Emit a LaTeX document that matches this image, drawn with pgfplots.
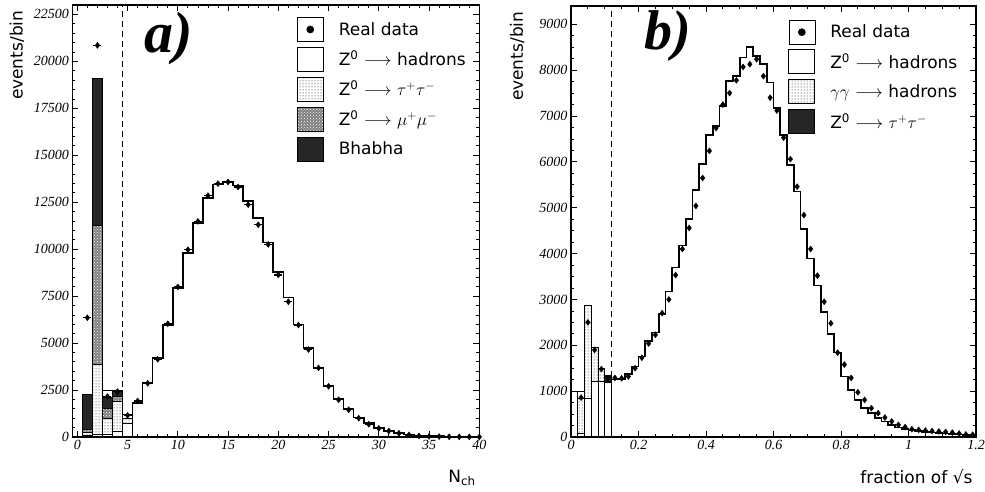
\documentclass[border=0pt]{standalone}
\usepackage{fontspec}
\setmainfont{Liberation Serif}
\setsansfont{DejaVu Sans}
\newfontfamily\serifit{Liberation Serif}
\newfontfamily\labsans{DejaVu Sans}
\usepackage{pgfplots}
\usepackage{pgfplotstable}
\pgfplotsset{compat=1.18}
\usetikzlibrary{patterns}

% left panel: cumulative heights of the low-multiplicity stacked bins
% T = total (white top), D = top of Bhabha, C = top of mu mu, P = top of tau tau, W = hadrons at bottom
\pgfplotstableread{
x T D C P W
0.5 2250 2250 400 250 100
1.5 19100 19100 11250 3850 150
2.5 2450 2090 1500 980 150
3.5 2480 2480 2150 1900 300
4.5 1200 1000 1000 1000 730
5.5 0 0 0 0 0
}\leftstack

\pgfplotstableread{
x y
4.5 1200
5.5 1800
6.5 2860
7.5 4200
8.5 5970
9.5 7930
10.5 9790
11.5 11390
12.5 12730
13.5 13440
14.5 13610
15.5 13380
16.5 12550
17.5 11660
18.5 10350
19.5 8770
20.5 7430
21.5 6000
22.5 4750
23.5 3680
24.5 2730
25.5 2020
26.5 1480
27.5 1035
28.5 730
29.5 470
30.5 330
31.5 220
32.5 140
33.5 90
34.5 60
35.5 40
36.5 25
37.5 15
38.5 10
39.5 5
40.5 5
}\lefthad

\pgfplotstableread{
x y
1 6350
2 20850
3 2150
4 2420
5 1150
6 1920
7 2860
8 4140
9 6030
10 7990
11 9970
12 11480
13 12850
14 13490
15 13580
16 13310
17 12370
18 11300
19 10250
20 8630
21 7200
22 5960
23 4660
24 3680
25 2700
26 1980
27 1450
28 1000
29 680
30 460
31 320
32 200
33 110
34 55
35 35
36 25
37 15
38 10
39 5
40 3
}\leftdata

% right panel stacked low bins: T total (white top), D top of tau, P top of gamma gamma, W hadrons bottom
\pgfplotstableread{
x T D P W
0.02 1000 850 850 80
0.04 2870 2870 2870 850
0.06 1950 1950 1950 1200
0.08 1500 1500 1500 1200
0.10 1330 1330 1220 1180
0.12 0 0 0 0
}\rightstack

\pgfplotstableread{
x y
0.10 1330
0.12 1250
0.14 1265
0.16 1380
0.18 1540
0.20 1760
0.22 2090
0.24 2280
0.26 2680
0.28 3170
0.30 3700
0.32 4180
0.34 4760
0.36 5390
0.38 5950
0.40 6590
0.42 6780
0.44 7220
0.46 7760
0.48 7870
0.50 8280
0.52 8500
0.54 8310
0.56 8130
0.58 7730
0.60 7180
0.62 6590
0.64 5930
0.66 5350
0.68 4540
0.70 3890
0.72 3300
0.74 2720
0.76 2240
0.78 1840
0.80 1320
0.82 1030
0.84 810
0.86 630
0.88 520
0.90 410
0.92 335
0.94 265
0.96 210
0.98 175
1.00 150
1.02 130
1.04 115
1.06 100
1.08 90
1.10 80
1.12 65
1.14 55
1.16 45
1.18 40
1.20 40
}\righthad

\pgfplotstableread{
x y
0.03 860
0.05 2500
0.07 1900
0.09 1480
0.11 1280
0.13 1290
0.15 1280
0.17 1320
0.19 1500
0.21 1730
0.23 2040
0.25 2230
0.27 2700
0.29 3000
0.31 3530
0.33 4100
0.35 4560
0.37 5040
0.39 5650
0.41 6240
0.43 6740
0.45 7250
0.47 7500
0.49 7780
0.51 8070
0.53 8130
0.55 8240
0.57 7870
0.59 7400
0.61 7120
0.63 6530
0.65 6060
0.67 5460
0.69 4840
0.71 4100
0.73 3520
0.75 2950
0.77 2480
0.79 1840
0.81 1580
0.83 1290
0.85 975
0.87 810
0.89 630
0.91 520
0.93 425
0.95 340
0.97 265
0.99 215
1.01 170
1.03 155
1.05 140
1.07 130
1.09 120
1.11 110
1.13 95
1.15 75
1.17 55
1.19 50
}\rightdata

\tikzset{
  mumu/.style={fill=black!50, postaction={pattern=crosshatch dots, pattern color=white}},
  tautau/.style={fill=white, postaction={pattern=dots}},
  bhabha/.style={fill=black!85},
}

\pgfplotsset{
  panel/.style={
    scale only axis, anchor=south west,
    ymin=0,
    scaled ticks=false,
    /pgf/number format/assume math mode=true,
    /pgf/number format/1000 sep={},
    tick label style={font=\fontsize{14}{14}\selectfont\serifit\itshape},
    label style={font=\fontsize{17}{17}\selectfont\labsans},
    axis line style={line width=1.2pt},
    tick style={black, line width=0.8pt},
    major tick length=6pt, minor tick length=3pt,
    ylabel style={rotate=0, anchor=east},
    xlabel style={anchor=north east},
    legend cell align=left,
    legend style={draw=none, fill=none, inner sep=0pt, anchor=north west,
      font=\fontsize{17}{17}\selectfont\labsans, row sep=5pt,
      /tikz/every odd column/.append style={column sep=13pt}},
  },
  boxleg/.style={legend image code/.code={\draw[black, line width=1pt, #1] (0pt,-12pt) rectangle (26pt,12pt);}},
}

\begin{document}
\begin{tikzpicture}
\begin{axis}[panel,
  at={(72.3pt,55pt)}, width=407pt, height=432pt,
  xmin=-0.5, xmax=40, ymax=23000,
  xtick={0,5,...,40}, ytick={0,2500,...,22500},
  minor x tick num=4, minor y tick num=4,
  xlabel={N\textsubscript{ch}}, ylabel={events/bin},
  xlabel style={at={(axis description cs:1.0,-0.068)}},
  ylabel style={at={(axis description cs:-0.136,0.995)}},
  legend style={at={(axis description cs:0.551,0.972)}},
]
\addlegendimage{legend image code/.code={\path (0pt,-12pt) rectangle (26pt,12pt); \fill[black] (13pt,0pt) circle (3.6pt);}}
\addlegendentry{Real data}
\addlegendimage{boxleg={fill=white}}
\addlegendentry{Z\textsuperscript{0} $\longrightarrow$ hadrons}
\addlegendimage{boxleg={tautau}}
\addlegendentry{Z\textsuperscript{0} $\longrightarrow$ $\tau^{+}\tau^{-}$}
\addlegendimage{boxleg={mumu}}
\addlegendentry{Z\textsuperscript{0} $\longrightarrow$ $\mu^{+}\mu^{-}$}
\addlegendimage{boxleg={bhabha}}
\addlegendentry{Bhabha}

\addplot[ybar interval, draw=black, line width=1pt, fill=white, forget plot] table[x=x, y=T] {\leftstack};
\addplot[ybar interval, draw=black, line width=1pt, bhabha, forget plot] table[x=x, y=D] {\leftstack};
\addplot[ybar interval, draw=black, line width=1pt, mumu, forget plot] table[x=x, y=C] {\leftstack};
\addplot[ybar interval, draw=black, line width=1pt, tautau, forget plot] table[x=x, y=P] {\leftstack};
\addplot[ybar interval, draw=black, line width=1pt, fill=white, forget plot] table[x=x, y=W] {\leftstack};
\addplot[const plot, black, line width=1.6pt, forget plot] table[x=x, y=y] {\lefthad};
\addplot[black, dashed, line width=0.8pt, dash pattern=on 6pt off 4pt, forget plot] coordinates {(4.5,0) (4.5,23000)};
\addplot[only marks, mark=diamond*, mark size=3pt, black, forget plot,
  error bars/.cd, x dir=both, x fixed=0.4, error mark=none,
  error bar style={line width=1.3pt}] table[x=x, y=y] {\leftdata};
\node at (axis description cs:0.236,0.923) {\fontsize{58}{58}\selectfont\serifit\bfseries\itshape a)};
\end{axis}

\begin{axis}[panel,
  at={(571pt,55pt)}, width=405pt, height=431pt,
  xmin=0, xmax=1.2, ymax=9400,
  xtick={0,0.2,0.4,0.6,0.8,1,1.2}, ytick={0,1000,...,9000},
  minor x tick num=3, minor y tick num=3,
  xlabel={fraction of √s}, ylabel={events/bin},
  xlabel style={at={(axis description cs:1.0,-0.068)}},
  ylabel style={at={(axis description cs:-0.133,0.995)}},
  legend style={at={(axis description cs:0.536,0.968)}},
]
\addlegendimage{legend image code/.code={\path (0pt,-12pt) rectangle (26pt,12pt); \fill[black] (13pt,0pt) circle (3.6pt);}}
\addlegendentry{Real data}
\addlegendimage{boxleg={fill=white}}
\addlegendentry{Z\textsuperscript{0} $\longrightarrow$ hadrons}
\addlegendimage{boxleg={tautau}}
\addlegendentry{$\gamma\gamma$ $\longrightarrow$ hadrons}
\addlegendimage{boxleg={bhabha}}
\addlegendentry{Z\textsuperscript{0} $\longrightarrow$ $\tau^{+}\tau^{-}$}

\addplot[ybar interval, draw=black, line width=1pt, fill=white, forget plot] table[x=x, y=T] {\rightstack};
\addplot[ybar interval, draw=black, line width=1pt, bhabha, forget plot] table[x=x, y=D] {\rightstack};
\addplot[ybar interval, draw=black, line width=1pt, tautau, forget plot] table[x=x, y=P] {\rightstack};
\addplot[ybar interval, draw=black, line width=1pt, fill=white, forget plot] table[x=x, y=W] {\rightstack};
\addplot[const plot, black, line width=1.6pt, forget plot] table[x=x, y=y] {\righthad};
\addplot[black, dashed, line width=0.8pt, dash pattern=on 6pt off 4pt, forget plot] coordinates {(0.12,0) (0.12,9400)};
\addplot[only marks, mark=diamond*, mark size=3pt, black, forget plot] table[x=x, y=y] {\rightdata};
\node at (axis description cs:0.24,0.930) {\fontsize{56}{56}\selectfont\serifit\bfseries\itshape b)};
\end{axis}
\pgfresetboundingbox
\path[use as bounding box] (0,0) rectangle (985pt,492pt);
\end{tikzpicture}
\end{document}
